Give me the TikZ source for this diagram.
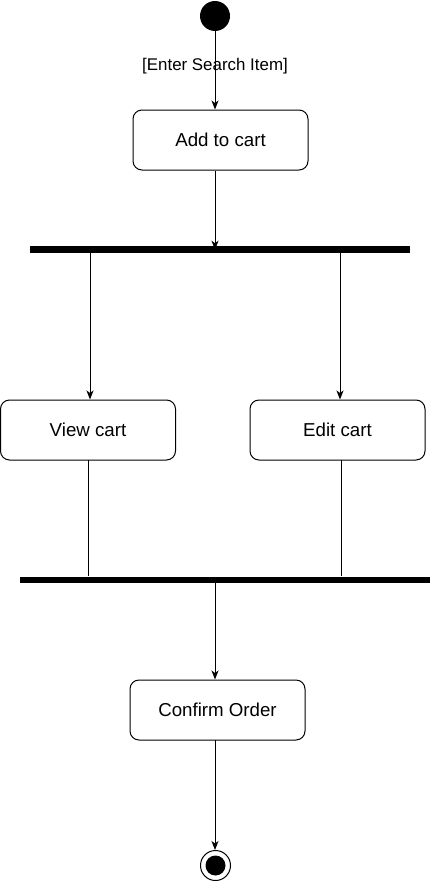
\documentclass[tikz,border=0pt]{standalone}
\usepackage{fontspec}
\setmainfont{Liberation Sans}
\usetikzlibrary{arrows.meta}
\begin{document}
\begin{tikzpicture}[x=1pt,y=-1pt,
  act/.style={draw,line width=1pt,rounded corners=9pt,minimum width=175pt,minimum height=60pt,inner sep=0pt,font=\fontsize{18.7}{22}\selectfont},
  bar/.style={fill=black,draw=none,inner sep=0pt,minimum height=6.7pt},
  flow/.style={line width=1pt,-{Stealth[length=9pt,width=7pt,inset=2.5pt]}},
  plain/.style={line width=1pt}]
\useasboundingbox (0,0) rectangle (435,881);
\node[circle,fill=black,minimum size=30pt,inner sep=0pt] (start) at (215,16) {};
\node[act] (add) at (220.5,140) {Add to cart};
\node[bar,minimum width=380pt] (fork) at (220,249.7) {};
\node[act] (view) at (88,430) {View cart};
\node[act] (edit) at (337.5,430) {Edit cart};
\node[bar,minimum width=410pt] (join) at (225,580) {};
\node[act] (confirm) at (217.5,710) {Confirm Order};
\node[circle,draw,line width=1pt,minimum size=30pt,inner sep=0pt] (end) at (215.5,865.5) {};
\node[circle,fill=black,minimum size=20pt,inner sep=0pt] (endin) at (end.center) {};
\draw[flow] (start.south) -- node[pos=0.45,font=\fontsize{16.9}{20}\selectfont,fill=white,fill opacity=0,text opacity=1] {[Enter Search Item]} (start.south |- add.north);
\draw[flow] (start.south |- add.south) -- (start.south |- fork.center);
\coordinate (f1) at (90,253);
\coordinate (f2) at (340,253);
\draw[flow] (f1) -- (f1 |- view.north);
\draw[flow] (f2) -- (f2 |- edit.north);
\coordinate (v1) at (88,460);
\coordinate (e1) at (341,460);
\draw[plain] (v1) -- (v1 |- join.north);
\draw[plain] (e1) -- (e1 |- join.north);
\coordinate (j1) at (215,583.3);
\draw[flow] (j1) -- (j1 |- confirm.north);
\coordinate (c1) at (215,740);
\draw[flow] (c1) -- (c1 |- end.north);
\end{tikzpicture}
\end{document}
